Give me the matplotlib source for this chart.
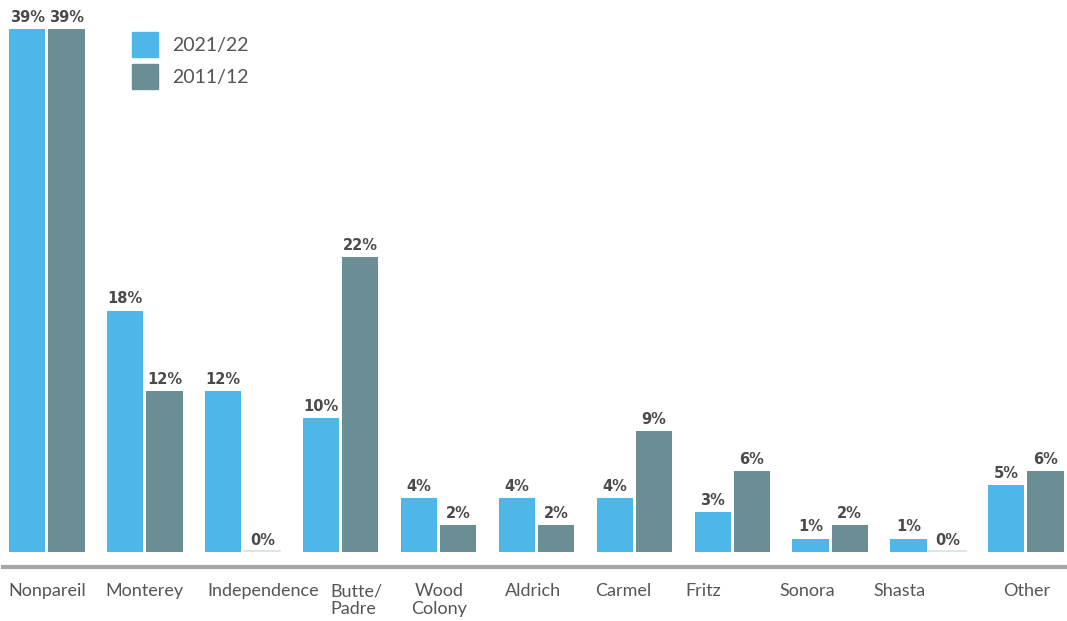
import numpy as np
import matplotlib.pyplot as plt
from matplotlib.patches import Patch

categories = ['Nonpareil', 'Monterey', 'Independence', 'Butte/\nPadre', 'Wood\nColony',
              'Aldrich', 'Carmel', 'Fritz', 'Sonora', 'Shasta', 'Other']
share_2122 = [39, 18, 12, 10, 4, 4, 4, 3, 1, 1, 5]
share_1112 = [39, 12, 0, 22, 2, 2, 9, 6, 2, 0, 6]
series_names = ['2021/22', '2011/12']

# label shifts (category units) so the names sit like the original
label_shift = [0, 0, 0.21, 0.14, 0.01, -0.03, -0.11, -0.30, -0.23, -0.29, 0.01]
label_align = ['center', 'center', 'center', 'left', 'center', 'center', 'center',
               'center', 'center', 'center', 'center']

blue = '#4DB7E8'
grey = '#6A8E93'
txt = '#555555'
plt.rcParams['font.family'] = ['Lato', 'DejaVu Sans']

fig = plt.figure(figsize=(10.67, 6.21), dpi=100)
ax = fig.add_axes([3/1067, 1 - 567/621, 1064/1067, 565/621])

x = np.arange(len(categories))
w = 0.37
off = 0.2
b1 = ax.bar(x - off, share_2122, w, color=blue)
b2 = ax.bar(x + off, share_1112, w, color=grey)

for bars, vals in ((b1, share_2122), (b2, share_1112)):
    for r, v in zip(bars, vals):
        if v == 0:
            ax.plot([r.get_x(), r.get_x() + r.get_width()], [0.05, 0.05],
                    color='#d8e0e3', lw=1.2)
        ax.annotate(f'{v}%', (r.get_x() + r.get_width() / 2, v),
                    xytext=(0, 3), textcoords='offset points',
                    ha='center', va='bottom', fontsize=10.5,
                    fontweight='bold', color='#4a4a4a', family='DejaVu Sans')

for i, c in enumerate(categories):
    xp = i + label_shift[i]
    ha = 'center'
    if label_align[i] == 'left':
        xp = i - 0.1
        ha = 'left'
    ax.text(xp, -2.35, c, ha=ha, va='top', fontsize=13, color=txt,
            multialignment=label_align[i], linespacing=1.1, clip_on=False)

ax.set_xlim(-0.449, 10.42)
ax.set_ylim(-1.12, 41)
ax.set_xticks([])
ax.set_yticks([])
for s in ['top', 'right', 'left']:
    ax.spines[s].set_visible(False)
ax.spines['bottom'].set_color('#a6a6a6')
ax.spines['bottom'].set_linewidth(3)

handles = [Patch(color=blue), Patch(color=grey)]
leg = fig.legend(handles, series_names, loc='upper left',
                 bbox_to_anchor=(114/1067, 1 - 15/621), frameon=False,
                 fontsize=14, handlelength=1.35, handleheight=1.6,
                 handletextpad=0.75, labelspacing=0.35, labelcolor=txt)

fig.savefig('out.png', dpi=100, facecolor='white')
